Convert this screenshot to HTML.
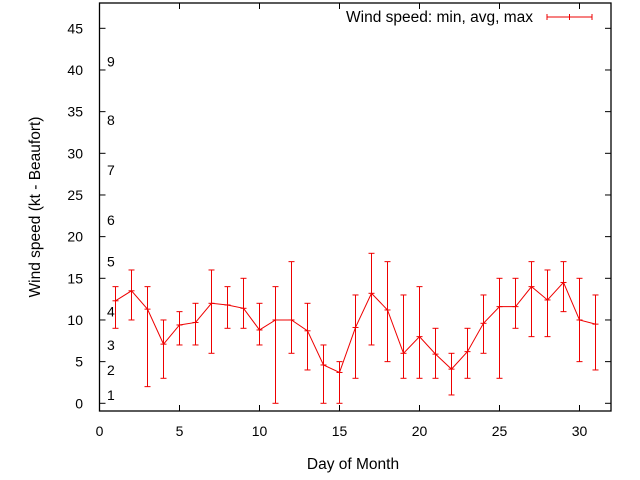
<!DOCTYPE html>
<html><head><meta charset="utf-8"><style>
body{margin:0;background:#fff}
svg{display:block;font-family:"Liberation Sans",sans-serif}
</style></head><body>
<svg id="chart" width="640" height="480" viewBox="0 0 640 480" xmlns="http://www.w3.org/2000/svg">
<g id="axes"></g>
<g id="beaufort"></g>
<g id="series"></g>
<text x="0" y="0" transform="translate(40,207) rotate(-90)" text-anchor="middle" font-size="15.5">Wind speed (kt - Beaufort)</text>
<text x="353" y="469" text-anchor="middle" font-size="15.5">Day of Month</text>
<g>
<text x="533" y="22" text-anchor="end" font-size="15.5">Wind speed: min, avg, max</text>
<line x1="547" y1="17" x2="592" y2="17" stroke="#e00" stroke-width="1"/>
<line x1="547" y1="14" x2="547" y2="20" stroke="#e00"/>
<line x1="592" y1="14" x2="592" y2="20" stroke="#e00"/>
<line x1="569.5" y1="14" x2="569.5" y2="20" stroke="#e00"/>
</g>
</svg>
<script>
const days=[1,2,3,4,5,6,7,8,9,10,11,12,13,14,15,16,17,18,19,20,21,22,23,24,25,26,27,28,29,30,31];
const avgVals=[12.3,13.5,11.3,7.1,9.4,9.7,12,11.8,11.4,8.8,10,10,8.7,4.6,3.7,9.1,13.2,11.2,6,8,5.9,4.1,6.2,9.6,11.6,11.6,14,12.4,14.5,10,9.5];
const minVals=[9,10,2,3,7,7,6,9,9,7,0,6,4,0,0,3,7,5,3,3,3,1,3,6,3,9,8,8,11,5,4];
const maxVals=[14,16,14,10,11,12,16,14,15,12,14,17,12,7,5,13,18,17,13,14,9,6,9,13,15,15,17,16,17,15,13];
const xTicks=[0,5,10,15,20,25,30];
const yTicks=[0,5,10,15,20,25,30,35,40,45];
const beaufortLabels=["1","2","3","4","5","6","7","8","9"];
const beaufortAt=[1,4,7,11,17,22,28,34,41];
const NS="http://www.w3.org/2000/svg";
const L=99.5,R=611,T=3,B=411;
const xs=v=>99.5+16*v;
const ys=v=>403.3-8.333*v;
function mk(tag,attrs,parent){const e=document.createElementNS(NS,tag);for(const k in attrs)e.setAttribute(k,attrs[k]);parent.appendChild(e);return e;}
const axes=document.getElementById('axes');
const frame=mk('rect',{x:L,y:T,width:R-L,height:B-T,fill:'none',stroke:'#000','stroke-width':1.3},axes);


xTicks.forEach(t=>{
 const x=xs(t);
 mk('line',{x1:x,y1:B,x2:x,y2:B-6,stroke:'#000'},axes);
 mk('line',{x1:x,y1:T,x2:x,y2:T+6,stroke:'#000'},axes);
 const tx=mk('text',{x:x,y:B+25,'text-anchor':'middle','font-size':14},axes);
 tx.textContent=t;
 
 
});
yTicks.forEach(t=>{
 const y=ys(t);
 mk('line',{x1:L,y1:y,x2:L+6,y2:y,stroke:'#000'},axes);
 mk('line',{x1:R,y1:y,x2:R-6,y2:y,stroke:'#000'},axes);
 const tx=mk('text',{x:83,y:y+5,'text-anchor':'end','font-size':14},axes);
 tx.textContent=t;
 
 
});
const bf=document.getElementById('beaufort');
beaufortLabels.forEach((s,i)=>{
 const tx=mk('text',{x:107,y:ys(beaufortAt[i])+5,'font-size':14},bf);
 tx.textContent=s;
 
 
});
const ser=document.getElementById('series');
days.forEach((d,i)=>{
 const x=xs(d);
 const g=mk('g',{stroke:'#e00','stroke-width':1},ser);
 
 
 mk('line',{x1:x,y1:ys(minVals[i]),x2:x,y2:ys(maxVals[i])},g);
 mk('line',{x1:x-3,y1:ys(minVals[i]),x2:x+3,y2:ys(minVals[i])},g);
 mk('line',{x1:x-3,y1:ys(maxVals[i]),x2:x+3,y2:ys(maxVals[i])},g);
 mk('line',{x1:x-3,y1:ys(avgVals[i]),x2:x+3,y2:ys(avgVals[i])},g);
});
const pl=mk('polyline',{points:days.map((d,i)=>xs(d)+','+ys(avgVals[i])).join(' '),fill:'none',stroke:'#e00','stroke-width':1},ser);


</script>
</body></html>
